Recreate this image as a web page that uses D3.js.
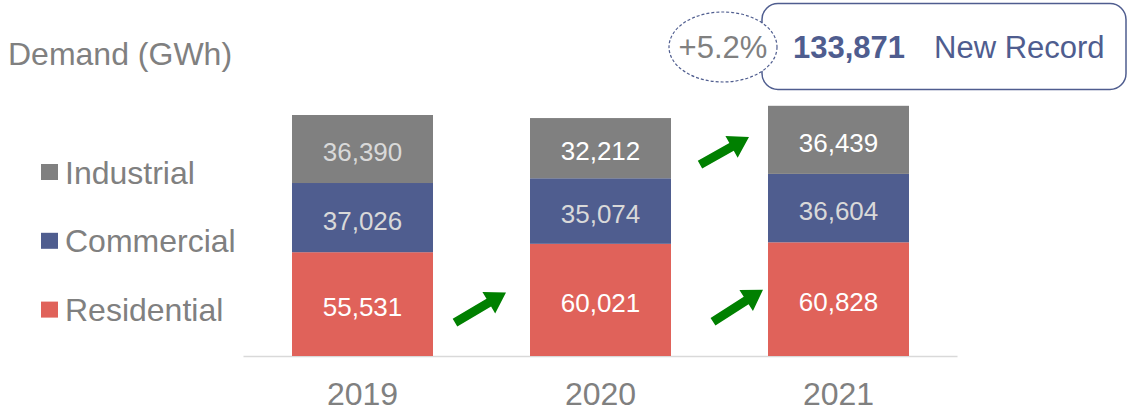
<!DOCTYPE html>
<html>
<head>
<meta charset="utf-8">
<script src="https://cdn.jsdelivr.net/npm/d3@7"></script>
<style>
  body { margin: 0; background: #fff; }
  text { font-family: Arial, "Liberation Sans", sans-serif; }
</style>
</head>
<body>
<script>
// chart data
var years = ['2019', '2020', '2021'],
	series = ['Residential', 'Commercial', 'Industrial'],
	residential = [55531, 60021, 60828],
	commercial = [37026, 35074, 36604],
	industrial = [36390, 32212, 36439],
	total = 133871,
	growth = '+5.2%';

var colors = { Residential: '#e0625a', Commercial: '#4f5d8f', Industrial: '#808080' };
// label colour per series per year (some labels are light gray in the original)
var labelColors = {
	Residential: ['#ffffff', '#ffffff', '#ffffff'],
	Commercial: ['#d9d9d9', '#d9d9d9', '#d9d9d9'],
	Industrial: ['#d9d9d9', '#ffffff', '#ffffff']
};

var W = 1128, H = 410;

var svg = d3.select('body').append('svg')
	.attr('width', W)
	.attr('height', H);

// build rows for stacking
var rows = years.map(function(y, i) {
	return { year: y, Residential: residential[i], Commercial: commercial[i], Industrial: industrial[i] };
});
var stacked = d3.stack().keys(series)(rows);

var x = d3.scaleBand()
	.domain(years)
	.range([243.5, 957.5])
	.paddingInner(0.4076)
	.paddingOuter(0.2038);

var y = d3.scaleLinear()
	.domain([0, 140000])
	.range([356, 356 - 140000 * 0.001869]);

// baseline
svg.append('line')
	.attr('x1', x.range()[0])
	.attr('x2', x.range()[1])
	.attr('y1', y(0) + 0.5)
	.attr('y2', y(0) + 0.5)
	.attr('stroke', '#d9d9d9')
	.attr('stroke-width', 1.5);

// bars
var layer = svg.selectAll('g.layer')
	.data(stacked)
	.enter().append('g')
	.attr('class', 'layer')
	.attr('fill', function(d) { return colors[d.key]; });

layer.selectAll('rect')
	.data(function(d) { return d; })
	.enter().append('rect')
	.attr('x', function(d) { return x(d.data.year); })
	.attr('width', x.bandwidth())
	.attr('y', function(d) { return y(d[1]); })
	.attr('height', function(d) { return y(d[0]) - y(d[1]); });

// value labels
stacked.forEach(function(s) {
	s.forEach(function(d, i) {
		svg.append('text')
			.text(d3.format(',')(d[1] - d[0]))
			.attr('x', x(d.data.year) + x.bandwidth() / 2)
			.attr('y', (y(d[0]) + y(d[1])) / 2 + 12)
			.attr('text-anchor', 'middle')
			.attr('font-size', 26)
			.attr('fill', labelColors[s.key][i]);
	});
});

// year axis labels
var xAxis = d3.axisBottom(x).tickSize(0).tickPadding(0);
var ax = svg.append('g')
	.attr('transform', 'translate(0,' + (y(0) + 48.5) + ')')
	.call(xAxis);
ax.select('.domain').remove();
ax.selectAll('text')
	.attr('font-size', 32)
	.attr('fill', '#808080')
	.attr('dy', 0)
	.style('font-family', 'Arial, "Liberation Sans", sans-serif');

// title
svg.append('text')
	.text('Demand (GWh)')
	.attr('x', 8)
	.attr('y', 65)
	.attr('font-size', 32)
	.attr('fill', '#808080');

// legend, top to bottom
var legendItems = series.slice().reverse();
legendItems.forEach(function(k, i) {
	var ly = 172 + i * 68.8;
	svg.append('rect')
		.attr('x', 41)
		.attr('y', ly - 8)
		.attr('width', 17)
		.attr('height', 16)
		.attr('fill', colors[k]);
	svg.append('text')
		.text(k)
		.attr('x', 65)
		.attr('y', ly + 11.5)
		.attr('font-size', 32)
		.attr('fill', '#808080');
});

// green growth arrows
function arrow(x1, y1, x2, y2) {
	var dx = x2 - x1, dy = y2 - y1,
		len = Math.sqrt(dx * dx + dy * dy),
		ux = dx / len, uy = dy / len,
		px = -uy, py = ux,
		sw = 4.5, hw = 12.5, hl = 20,
		bx = x2 - ux * hl, by = y2 - uy * hl;
	var pts = [
		[x1 + px * sw, y1 + py * sw],
		[bx + px * sw, by + py * sw],
		[bx + px * hw, by + py * hw],
		[x2, y2],
		[bx - px * hw, by - py * hw],
		[bx - px * sw, by - py * sw],
		[x1 - px * sw, y1 - py * sw]
	];
	svg.append('path')
		.attr('d', d3.line()(pts) + 'Z')
		.attr('fill', '#008000');
}
var gap0 = x('2019') + x.bandwidth(), gap1 = x('2020') + x.bandwidth();
arrow(gap0 + 22, y(17800), gap0 + 73, y(34000));
arrow(gap1 + 42, y(18300), gap1 + 92, y(35500));
var ind2021 = stacked[2][2];
arrow(gap1 + 29, y(ind2021[0] + 5000), gap1 + 78, y(ind2021[0] + 19700));

// record box
svg.append('rect')
	.attr('x', 762)
	.attr('y', 3.5)
	.attr('width', 364)
	.attr('height', 86)
	.attr('rx', 16)
	.attr('fill', '#fff')
	.attr('stroke', '#4f5d8f')
	.attr('stroke-width', 1.5);

svg.append('ellipse')
	.attr('cx', 723)
	.attr('cy', 47)
	.attr('rx', 54)
	.attr('ry', 35)
	.attr('fill', '#fff')
	.attr('stroke', '#4f5d8f')
	.attr('stroke-width', 1.2)
	.attr('stroke-dasharray', '3,2');

svg.append('text')
	.text(growth)
	.attr('x', 723)
	.attr('y', 58)
	.attr('text-anchor', 'middle')
	.attr('font-size', 31)
	.attr('fill', '#808080');

svg.append('text')
	.text(d3.format(',')(total))
	.attr('x', 793)
	.attr('y', 58)
	.attr('font-size', 31)
	.attr('font-weight', 'bold')
	.attr('fill', '#4f5d8f');

svg.append('text')
	.text('New Record')
	.attr('x', 934)
	.attr('y', 58)
	.attr('font-size', 31)
	.attr('fill', '#4f5d8f');
</script>
</body>
</html>
